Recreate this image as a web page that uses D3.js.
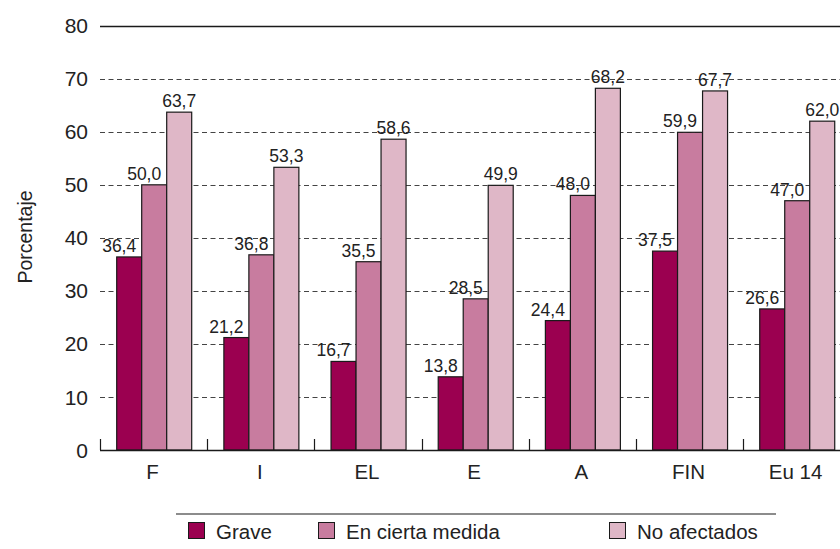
<!DOCTYPE html>
<html>
<head>
<meta charset="utf-8">
<script src="https://cdn.jsdelivr.net/npm/d3@7"></script>
<style>
  html, body { margin: 0; padding: 0; background: #fff; }
  svg { display: block; font-family: "Liberation Sans", Arial, sans-serif; }
</style>
</head>
<body>
<svg id="chart" width="840" height="549"></svg>
<script>
// ---- Data ----
const categories = ["F", "I", "EL", "E", "A", "FIN", "Eu 14"];
const seriesNames = ["Grave", "En cierta medida", "No afectados"];
const grave = [36.4, 21.2, 16.7, 13.8, 24.4, 37.5, 26.6];
const enCiertaMedida = [50.0, 36.8, 35.5, 28.5, 48.0, 59.9, 47.0];
const noAfectados = [63.7, 53.3, 58.6, 49.9, 68.2, 67.7, 62.0];
const yTicks = [0, 10, 20, 30, 40, 50, 60, 70, 80];
const yTitle = "Porcentaje";

const seriesValues = [grave, enCiertaMedida, noAfectados];
const colors = ["#9b0050", "#c87c9f", "#dfb7c7"];
const labelDx = [-10, -10, 0];

const svg = d3.select("#chart");

const x0 = d3.scaleBand().domain(categories).range([100, 850.2]).padding(0);
const x1 = d3.scaleBand().domain(seriesNames).range([16.7, 91.7]).padding(0);
const y = d3.scaleLinear().domain([0, 80]).range([450, 25.7]);

const fmt = v => d3.format(".1f")(v).replace(".", ",");

// Grid lines
const grid = svg.append("g");
yTicks.filter(t => t > 0).forEach(t => {
  grid.append("line")
    .attr("x1", 100).attr("x2", 840)
    .attr("y1", Math.round(y(t)) + 0.5).attr("y2", Math.round(y(t)) + 0.5)
    .attr("stroke", t === 80 ? "#1a1a1a" : "#444")
    .attr("stroke-width", t === 80 ? 1.3 : 1)
    .attr("stroke-dasharray", t === 80 ? null : "5,3.5");
});

// Y tick labels
svg.append("g").selectAll("text").data(yTicks).join("text")
  .attr("x", 88)
  .attr("y", d => y(d))
  .attr("dy", "0.36em")
  .attr("text-anchor", "end")
  .attr("font-size", 21)
  .attr("fill", "#222")
  .text(d => d);

// Y title
svg.append("text")
  .attr("transform", "translate(32,237) rotate(-90)")
  .attr("text-anchor", "middle")
  .attr("font-size", 19.5)
  .attr("fill", "#222")
  .text(yTitle);

// Bars
const groups = svg.append("g").selectAll("g").data(categories).join("g")
  .attr("transform", d => `translate(${x0(d)},0)`);

groups.each(function(cat, ci) {
  const g = d3.select(this);
  seriesNames.forEach((s, si) => {
    const v = seriesValues[si][ci];
    g.append("rect")
      .attr("x", x1(s))
      .attr("y", y(v))
      .attr("width", x1.bandwidth())
      .attr("height", y(0) - y(v))
      .attr("fill", colors[si])
      .attr("stroke", "#1a1a1a")
      .attr("stroke-width", 1.2);
  });
  seriesNames.forEach((s, si) => {
    const v = seriesValues[si][ci];
    g.append("text")
      .attr("x", x1(s) + x1.bandwidth() / 2 + labelDx[si])
      .attr("y", y(v) - 5)
      .attr("text-anchor", "middle")
      .attr("font-size", 17.5)
      .attr("fill", "#222")
      .text(fmt(v));
  });
});

// Baseline and group ticks
svg.append("line")
  .attr("x1", 100).attr("x2", 840)
  .attr("y1", 450.5).attr("y2", 450.5)
  .attr("stroke", "#1a1a1a").attr("stroke-width", 1.3);
const bounds = categories.map(c => x0(c));
svg.append("g").selectAll("line").data(bounds).join("line")
  .attr("x1", d => Math.round(d) + 0.5).attr("x2", d => Math.round(d) + 0.5)
  .attr("y1", 439).attr("y2", 450)
  .attr("stroke", "#1a1a1a").attr("stroke-width", 1.2);

// X labels
svg.append("g").selectAll("text").data(categories).join("text")
  .attr("x", d => x0(d) + x0.bandwidth() / 2 - 1)
  .attr("y", 479)
  .attr("text-anchor", "middle")
  .attr("font-size", 20.5)
  .attr("fill", "#222")
  .text(d => d);

// Legend
svg.append("line")
  .attr("x1", 176).attr("x2", 776)
  .attr("y1", 514).attr("y2", 514)
  .attr("stroke", "#666").attr("stroke-width", 1.6);
const legendX = [188, 318, 609];
const legend = svg.append("g").selectAll("g").data(seriesNames).join("g")
  .attr("transform", (d, i) => `translate(${legendX[i]},522)`);
legend.append("rect")
  .attr("x", 0.5).attr("y", 0.5)
  .attr("width", 16).attr("height", 16)
  .attr("fill", (d, i) => colors[i])
  .attr("stroke", "#1a1a1a").attr("stroke-width", 1);
legend.append("text")
  .attr("x", 28).attr("y", 17)
  .attr("font-size", 20.5)
  .attr("fill", "#222")
  .text(d => d);
</script>
</body>
</html>
